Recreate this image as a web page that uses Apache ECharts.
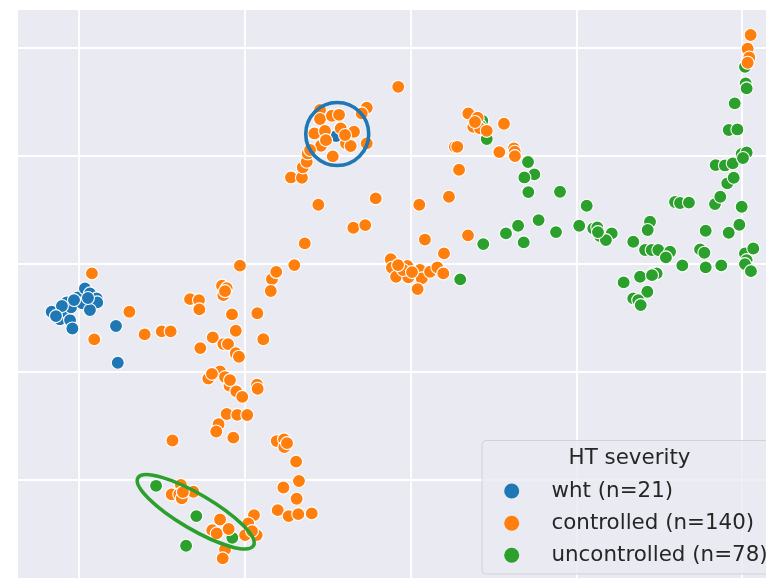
<!DOCTYPE html>
<html>
<head>
<meta charset="utf-8">
<title>HT severity embedding</title>
<script src="https://cdn.jsdelivr.net/npm/echarts@6/dist/echarts.min.js"></script>
<style>
  html, body { margin: 0; padding: 0; background: #ffffff; }
  #chart { width: 766px; height: 578px; }
</style>
</head>
<body>
<div id="chart"></div>
<script>
// Legend
const legendTitle = 'HT severity';
const groupNames = ['wht (n=21)', 'controlled (n=140)', 'uncontrolled (n=78)'];
const groupColors = ['#1f77b4', '#ff7f0e', '#2ca02c'];

// 2-D embedding coordinates, one [x, y] pair per patient
const whtPoints = [
  [-1.65, 15.57], [-1.15, 14.87], [-0.74, 16.44], [-0.78, 15.57], [-0.54, 14.80],
  [-0.40, 14.03], [-0.48, 15.98], [-0.08, 16.90], [0.20, 16.35], [0.36, 17.73],
  [0.66, 17.27], [1.07, 16.81], [1.10, 16.44], [0.66, 15.73], [2.23, 14.25],
  [2.34, 10.85], [15.51, 31.82], [-0.30, 16.65], [-1.03, 16.10], [0.54, 16.84],
  [-1.39, 15.17]
];

const controlledPoints = [
  [0.78, 19.12], [0.92, 13.02], [3.04, 15.57], [3.96, 13.48], [4.99, 13.76],
  [5.53, 13.76], [5.64, 3.67], [6.70, 16.74], [7.24, 16.65], [7.26, 15.79],
  [8.63, 17.99], [8.91, 17.76], [8.71, 17.11], [9.23, 15.33], [9.71, 19.84],
  [10.76, 15.43], [11.12, 13.03], [9.46, 13.81], [8.07, 13.20], [8.71, 12.58],
  [8.99, 12.58], [7.32, 12.21], [9.46, 11.73], [9.65, 11.41], [7.80, 9.39],
  [8.51, 10.04], [8.02, 9.83], [8.81, 9.53], [9.08, 8.74], [9.49, 8.21],
  [9.85, 7.70], [10.74, 8.83], [10.78, 8.45], [8.91, 6.12], [9.55, 6.03],
  [10.15, 6.02], [8.42, 5.16], [8.28, 4.49], [9.31, 3.93], [11.93, 3.61],
  [12.37, 3.77], [12.39, 3.05], [13.10, 1.71], [13.27, -0.09], [12.33, -0.68],
  [13.13, -1.73], [11.99, -2.78], [12.65, -3.33], [13.23, -3.15], [14.04, -3.08],
  [6.15, -0.46], [6.90, -1.08], [5.59, -1.32], [6.05, -1.32], [6.20, -1.69],
  [8.51, -3.64], [8.04, -4.63], [8.31, -4.93], [9.03, -4.53], [10.56, -3.24],
  [10.21, -4.01], [10.02, -5.09], [10.72, -5.09], [8.81, -6.41], [8.67, -7.24],
  [11.64, 18.59], [11.57, 17.50], [11.90, 19.26], [12.99, 19.89], [13.62, 21.90],
  [12.79, 28.00], [13.45, 27.97], [13.50, 28.93], [13.74, 29.45], [13.80, 30.22],
  [14.44, 25.47], [16.55, 23.34], [17.27, 23.59], [17.90, 26.06], [19.26, 36.38],
  [20.53, 25.47], [20.87, 22.25], [14.54, 34.23], [14.54, 33.40], [15.26, 33.70],
  [15.69, 33.79], [14.20, 32.07], [14.84, 32.29], [15.79, 32.54], [16.59, 32.22],
  [16.11, 31.15], [16.39, 30.90], [14.60, 30.93], [17.36, 31.15], [15.31, 29.95],
  [17.36, 34.44], [17.06, 33.92], [23.49, 33.92], [24.05, 33.52], [23.79, 32.68],
  [24.19, 32.54], [24.60, 32.31], [25.64, 32.96], [22.68, 30.83], [22.82, 30.83],
  [25.36, 30.34], [26.24, 30.69], [26.29, 30.37], [26.30, 29.97], [22.93, 28.71],
  [22.32, 26.21], [23.47, 22.64], [22.02, 20.97], [18.81, 20.44], [18.88, 19.64],
  [19.13, 18.81], [19.81, 19.80], [19.87, 18.75], [20.57, 19.43], [20.68, 18.66],
  [20.43, 17.67], [21.18, 19.27], [21.62, 19.68], [21.98, 19.12], [40.52, 41.17],
  [40.34, 39.90], [40.44, 39.10], [40.34, 38.61], [6.27, -1.11], [19.55, 19.43],
  [20.09, 19.24], [16.05, 31.92], [14.90, 31.45], [23.89, 33.12], [9.11, 9.25],
  [8.81, 17.48], [10.44, -4.72], [12.55, 3.42], [19.25, 19.89], [13.94, 30.53]
];

const uncontrolledPoints = [
  [4.65, -0.53], [7.08, -3.33], [9.25, -5.34], [6.46, -6.08], [23.79, 33.37],
  [24.33, 33.24], [24.60, 31.55], [27.09, 29.42], [27.47, 28.28], [26.87, 28.00],
  [27.11, 26.64], [29.02, 26.67], [27.73, 24.05], [26.49, 23.53], [28.78, 22.94],
  [25.76, 22.82], [26.83, 21.99], [24.39, 21.83], [23.00, 18.57], [30.63, 25.38],
  [30.18, 23.53], [31.03, 23.28], [31.27, 23.38], [32.14, 22.82], [31.43, 22.57],
  [31.79, 22.20], [33.44, 22.05], [34.45, 23.90], [34.31, 23.13], [34.15, 21.28],
  [34.55, 21.28], [34.95, 21.28], [35.66, 21.12], [35.41, 20.60], [36.40, 19.86],
  [32.86, 18.29], [33.85, 18.81], [34.65, 19.12], [34.85, 19.12], [34.29, 17.42],
  [33.44, 16.81], [33.74, 16.65], [33.89, 16.19], [35.96, 25.72], [36.26, 25.63],
  [36.80, 25.67], [37.81, 23.06], [37.47, 21.34], [37.73, 21.03], [37.81, 19.68],
  [38.75, 19.86], [39.20, 22.88], [39.84, 23.62], [39.98, 25.28], [38.37, 25.53],
  [38.69, 26.21], [39.11, 27.45], [39.50, 27.97], [38.41, 29.14], [38.97, 29.11],
  [39.44, 29.30], [39.98, 30.16], [40.28, 30.30], [40.18, 20.97], [40.68, 21.43],
  [40.28, 20.35], [40.18, 19.98], [40.54, 19.33], [40.18, 38.23], [40.22, 36.70],
  [40.28, 36.24], [39.56, 34.85], [39.20, 32.38], [39.72, 32.44], [24.19, 32.84],
  [31.31, 22.94], [34.57, 18.96], [40.06, 29.79]
];

// Highlighted regions: a circle around the lone wht point inside the
// controlled cluster, and a tilted ellipse around the low uncontrolled group
const circleMark = { center: [15.58, 32.01], radiusPx: 31.5 };
const ellipseMark = { center: [7.04, -2.93], rxPx: 67, ryPx: 17.5, tiltDeg: 30.4 };

const chart = echarts.init(document.getElementById('chart'), null, { renderer: 'canvas' });

function scatterSeries(name, data, color, z) {
  return {
    name: name,
    type: 'scatter',
    data: data,
    symbol: 'circle',
    symbolSize: 13,
    z: z,
    itemStyle: { color: color, borderColor: '#ffffff', borderWidth: 1.1, opacity: 1 },
    emphasis: { disabled: true }
  };
}

const gridLine = { show: true, lineStyle: { color: '#ffffff', width: 1.8 } };

chart.setOption({
  animation: false,
  backgroundColor: '#ffffff',
  grid: {
    left: -86.75, top: -60.4, width: 994.5, height: 648.6,
    outerBoundsMode: 'none',
    show: true, backgroundColor: '#eaeaf2', borderWidth: 0, containLabel: false
  },
  xAxis: {
    type: 'value', min: -10, max: 50, interval: 10,
    axisLine: { show: false }, axisTick: { show: false }, axisLabel: { show: false },
    splitLine: gridLine
  },
  yAxis: {
    type: 'value', min: -10, max: 50, interval: 10,
    axisLine: { show: false }, axisTick: { show: false }, axisLabel: { show: false },
    splitLine: gridLine
  },
  series: [
    scatterSeries(groupNames[2], uncontrolledPoints, groupColors[2], 2),
    scatterSeries(groupNames[0], whtPoints, groupColors[0], 3),
    scatterSeries(groupNames[1], controlledPoints, groupColors[1], 4)
  ]
});

// Annotations and legend, placed once the axes are laid out
const cPix = chart.convertToPixel({ gridIndex: 0 }, circleMark.center);
const ePix = chart.convertToPixel({ gridIndex: 0 }, ellipseMark.center);

const legendX = 482, legendY = 440.5;
const rowY = [491, 523.3, 555.3];
const textFont = '21.4px "DejaVu Sans", sans-serif';

const graphics = [
  // white page margin around the plotting area
  { type: 'rect', z: 100, silent: true, shape: { x: 0, y: 0, width: 18, height: 578 }, style: { fill: '#ffffff' } },
  { type: 'rect', z: 100, silent: true, shape: { x: 0, y: 0, width: 766, height: 10 }, style: { fill: '#ffffff' } },
  {
    type: 'circle', z: 50, silent: true,
    shape: { cx: cPix[0], cy: cPix[1], r: circleMark.radiusPx },
    style: { fill: 'none', stroke: groupColors[0], lineWidth: 3.6 }
  },
  {
    type: 'ellipse', z: 50, silent: true,
    x: ePix[0], y: ePix[1], rotation: -ellipseMark.tiltDeg * Math.PI / 180,
    shape: { cx: 0, cy: 0, rx: ellipseMark.rxPx, ry: ellipseMark.ryPx },
    style: { fill: 'none', stroke: groupColors[2], lineWidth: 3.6 }
  },
  {
    type: 'rect', z: 60, silent: true,
    shape: { x: legendX, y: legendY, width: 320, height: 133.5, r: 4 },
    style: { fill: 'rgba(234,234,242,0.8)', stroke: 'rgba(204,204,204,0.8)', lineWidth: 1 }
  },
  {
    type: 'text', z: 61, silent: true,
    style: {
      text: legendTitle, x: 629.5, y: 458, font: textFont, fill: '#262626',
      align: 'center', verticalAlign: 'middle', textAlign: 'center', textVerticalAlign: 'middle'
    }
  }
];

groupNames.forEach(function (name, i) {
  graphics.push({
    type: 'circle', z: 61, silent: true,
    shape: { cx: 511.7, cy: rowY[i], r: 7.5 },
    style: { fill: groupColors[i] }
  });
  graphics.push({
    type: 'text', z: 61, silent: true,
    style: {
      text: name, x: 551.5, y: rowY[i], font: textFont, fill: '#262626',
      align: 'left', verticalAlign: 'middle', textAlign: 'left', textVerticalAlign: 'middle'
    }
  });
});

chart.setOption({ graphic: graphics });
</script>
</body>
</html>
